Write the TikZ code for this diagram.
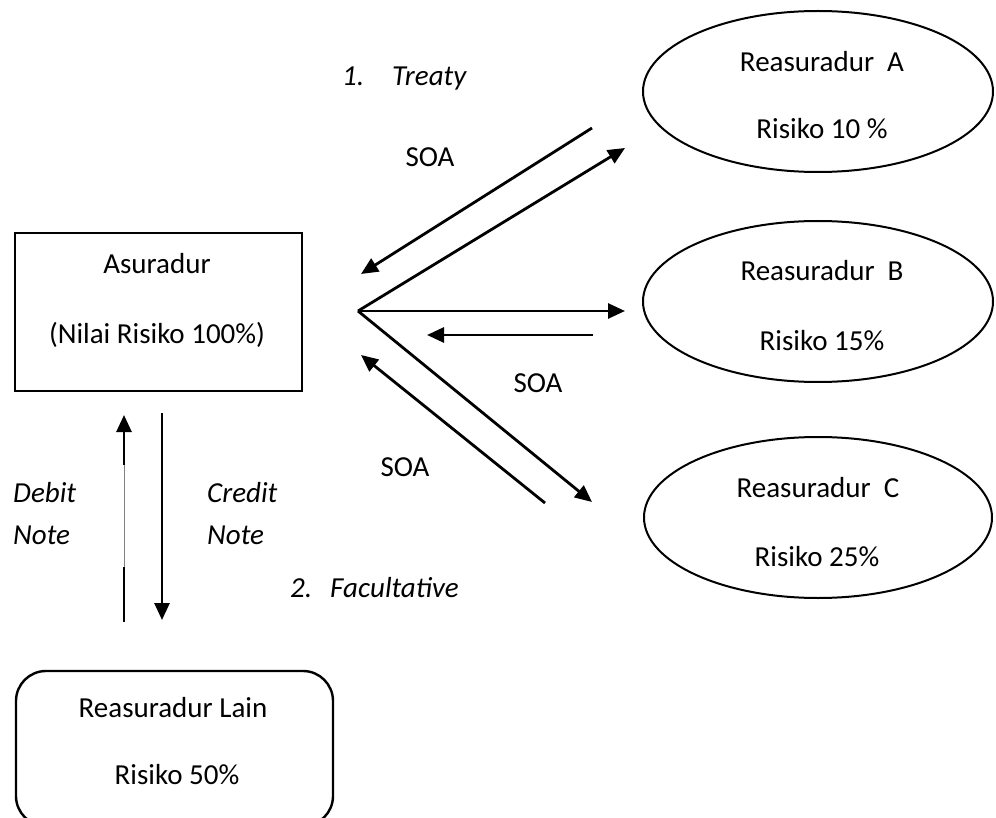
\documentclass[tikz,border=0pt]{standalone}
\usepackage{fontspec}
\setmainfont{Carlito}
\usetikzlibrary{arrows.meta,shapes.geometric}
\begin{document}
\begin{tikzpicture}[x=1pt,y=-1pt,
  txt/.style={font=\fontsize{29}{35}\selectfont, inner sep=0pt, anchor=base},
  itx/.style={font=\fontsize{29}{35}\selectfont\itshape, inner sep=0pt, anchor=base west},
  arr/.style={line width=2.8pt, -{Triangle[length=17pt,width=15pt]}},
  bar/.style={line width=2.8pt},
  thinbar/.style={line width=0.8pt, gray},
  ell/.style={draw, line width=2pt, ellipse, inner sep=0pt, minimum width=350pt, minimum height=161pt},
  box/.style={draw, line width=2pt, inner sep=0pt},
]
\clip (0,0) rectangle (996,818);
\fill[white] (0,0) rectangle (996,818);

% shapes
\node[box, minimum width=287pt, minimum height=158pt] (asr) at (158.5,312) {};
\node[box, line width=2.4pt, rounded corners=30pt, minimum width=317pt, minimum height=155pt] (lain) at (174.5,748.5) {};
\node[ell] (ra) at (818,91.5) {};
\node[ell] (rb) at (818,301.5) {};
\node[ell, minimum width=348pt] (rc) at (818,517.5) {};

% texts in shapes
\node[txt] (asr1) at (157,274) {Asuradur};
\node[txt] (asr2) at (157,344) {(Nilai Risiko 100\%)};
\node[txt] (ra1) at (822,72) {Reasuradur~ A};
\node[txt] (ra2) at (822,139) {Risiko 10 \%};
\node[txt] (rb1) at (822,281) {Reasuradur~ B};
\node[txt] (rb2) at (822,350) {Risiko 15\%};
\node[txt] (rc1) at (818,497) {Reasuradur~ C};
\node[txt] (rc2) at (817,566) {Risiko 25\%};
\node[txt] (l1) at (173,717) {Reasuradur Lain};
\node[txt] (l2) at (177,784) {Risiko 50\%};

% labels
\node[txt] (soa1) at (430,167) {SOA};
\node[txt] (soa2) at (538,392) {SOA};
\node[txt] (soa3) at (405,476) {SOA};
\node[itx] (n1) at (342,86) {1.};
\node[itx] (treaty) at (392,86) {Treaty};
\node[itx] (n2) at (290,597) {2.};
\node[itx] (fac) at (330,597) {Facultative};
\node[itx] (debit) at (13,502) {Debit};
\node[itx] (dnote) at (13,544) {Note};
\node[itx] (credit) at (207,502) {Credit};
\node[itx] (cnote) at (207,544) {Note};

% connector coordinates
\coordinate (o) at (358,311);
\coordinate (ta) at (625,148);
\coordinate (sa0) at (592,128);
\coordinate (sa1) at (361,274);
\coordinate (tb) at (625,311);
\coordinate (sb0) at (593,335);
\coordinate (sb1) at (427,335);
\coordinate (tc) at (592,502);
\coordinate (sc0) at (545,503);
\coordinate (sc1) at (361,355);
\coordinate (ub) at (124,622);
\coordinate (um1) at (124,567);
\coordinate (um2) at (124,465);
\coordinate (ut) at (124,415);
\coordinate (d0) at (162,413);
\coordinate (d1) at (162,620);

% arrows
\draw[arr] (o) -- (ta);
\draw[arr] (sa0) -- (sa1);
\draw[arr] (o) -- (tb);
\draw[arr] (sb0) -- (sb1);
\draw[arr] (o) -- (tc);
\draw[arr] (sc0) -- (sc1);
\draw[bar] (ub) -- (um1);
\draw[thinbar] (um1) -- (um2);
\draw[arr] (um2) -- (ut);
\draw[arr] (d0) -- (d1);
\end{tikzpicture}
\end{document}
